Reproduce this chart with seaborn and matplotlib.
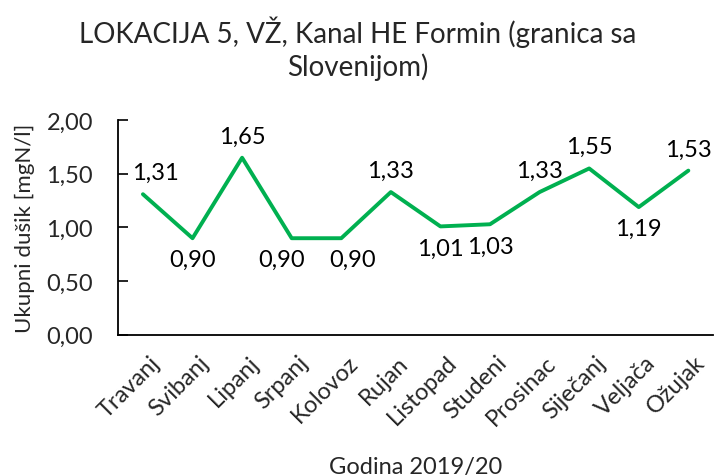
import matplotlib
matplotlib.use("Agg")
import matplotlib.pyplot as plt
import matplotlib.transforms as mtransforms
import seaborn as sns
import pandas as pd

# Data
months = ["Travanj", "Svibanj", "Lipanj", "Srpanj", "Kolovoz", "Rujan",
          "Listopad", "Studeni", "Prosinac", "Siječanj", "Veljača", "Ožujak"]
values = [1.31, 0.90, 1.65, 0.90, 0.90, 1.33, 1.01, 1.03, 1.33, 1.55, 1.19, 1.53]
label_above = [True, False, True, False, False, True, False, False, True, True, False, True]
label_shift = [9, 0, 0, -7, 8, 0, 0, 0, 0, 0, 0, 0]  # sideways nudge (pt) like Excel
yticks = [0, 0.5, 1.0, 1.5, 2.0]

df = pd.DataFrame({"mjesec": months, "N": values})

sns.set_theme(style="ticks")
plt.rcParams["font.family"] = ["Lato", "DejaVu Sans"]

fig = plt.figure(figsize=(7.16, 4.77), dpi=100)
ax = fig.add_axes([0.165, 0.296, 0.831, 0.45])

sns.lineplot(data=df, x="mjesec", y="N", sort=False, color="#00B050",
             linewidth=2.8, ax=ax)

for i, (v, up, dx) in enumerate(zip(values, label_above, label_shift)):
    txt = f"{v:.2f}".replace(".", ",")
    ax.annotate(txt, (i, v), xytext=(dx, 8 if up else -8), textcoords="offset points",
                ha="center", va="bottom" if up else "top", fontsize=17, color="black")

ax.set_xlim(-0.5, len(months) - 0.5)
ax.set_ylim(0, 2.0)
ax.set_yticks(yticks)
ax.set_yticklabels([f"{t:.2f}".replace(".", ",") for t in yticks], fontsize=17)
ax.set_xticks(range(len(months)))
ax.set_xticklabels(months, rotation=45, ha="right", rotation_mode="anchor", fontsize=17)
ax.tick_params(axis="x", length=0, pad=12)
ax.tick_params(axis="y", direction="in", length=7, width=1.2, color="black", pad=18)

# shift rotated tick labels slightly right, as in the reference
offset = mtransforms.ScaledTranslation(6 / 100, 0, fig.dpi_scale_trans)
for lab in ax.get_xticklabels():
    lab.set_transform(lab.get_transform() + offset)

sns.despine(ax=ax, top=True, right=True)
for s in ["left", "bottom"]:
    ax.spines[s].set_color("black")
    ax.spines[s].set_linewidth(1.3)

ax.set_xlabel("Godina 2019/20", fontsize=17, labelpad=20)
ax.set_ylabel("Ukupni dušik [mgN/l]", fontsize=16, labelpad=8)
fig.suptitle("LOKACIJA 5, VŽ, Kanal HE Formin (granica sa\nSlovenijom)", fontsize=20, y=0.965,
             linespacing=1.25)

fig.savefig("out.png", dpi=100)
